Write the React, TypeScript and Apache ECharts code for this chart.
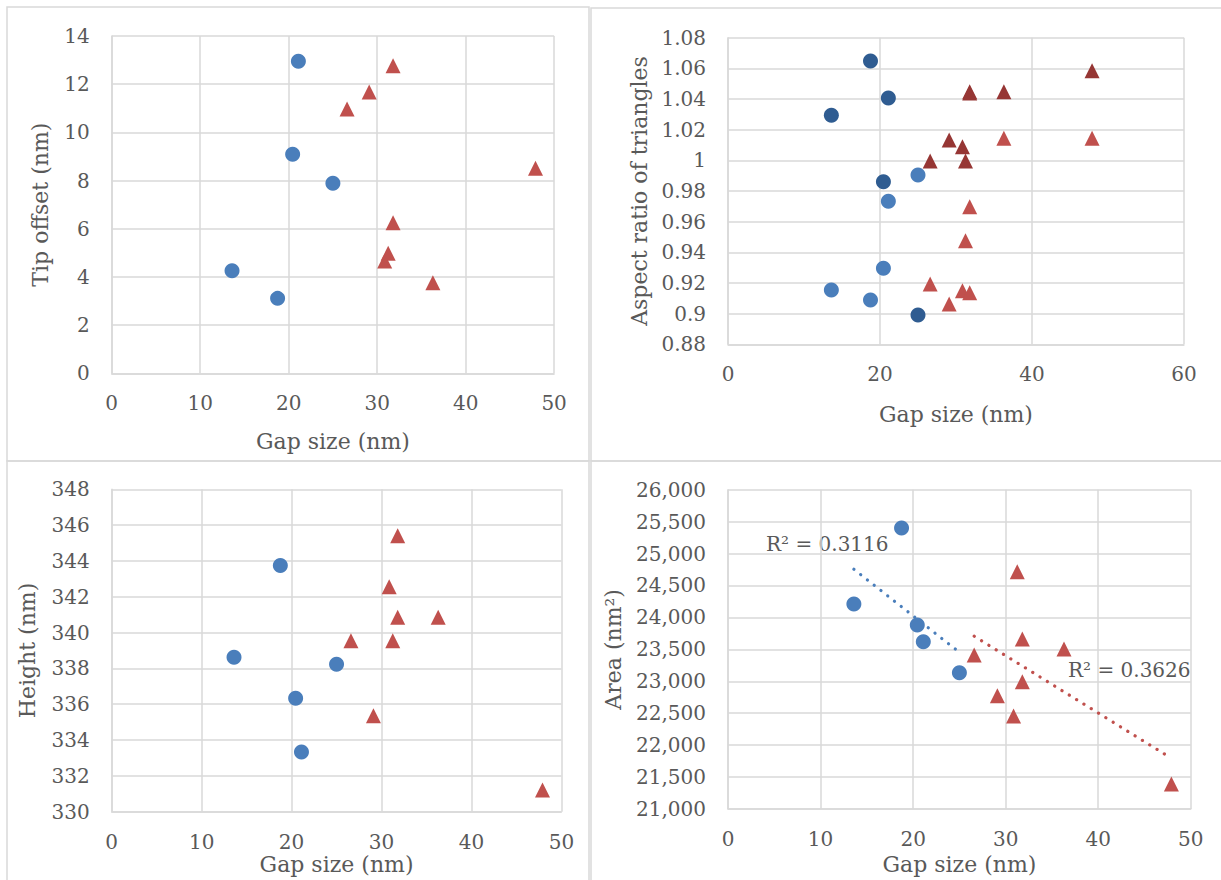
import React, { useEffect, useRef } from "react";
import * as echarts from "echarts";

// ---- data ----
const blueGap = [13.6, 18.75, 20.45, 21.1, 25.0];
const redGap = [26.6, 29.1, 30.85, 31.25, 31.8, 31.8, 36.3, 47.9];

const blueTip = [4.26, 3.11, 9.09, 12.95, 7.89];
const redTip = [10.97, 11.68, 4.66, 4.98, 12.77, 6.25, 3.76, 8.51];

const blueAspectDark = [1.0294, 1.0648, 0.9861, 1.0407, 0.8991];
const blueAspectLight = [0.9154, 0.9089, 0.9296, 0.9733, 0.9904];
const redAspectDark = [0.9995, 1.0133, 1.0089, 0.9995, 1.0448, 1.044, 1.0448, 1.0585];
const redAspectLight = [0.9193, 0.9063, 0.915, 0.9476, 0.9698, 0.9137, 1.0144, 1.0144];

const blueHeight = [338.62, 343.74, 336.33, 333.33, 338.23];
const redHeight = [339.55, 335.36, 342.56, 339.55, 345.41, 340.85, 340.85, 331.21];

const blueArea = [24210, 25400, 23881, 23620, 23135];
const redArea = [23412, 22774, 22456, 24716, 23662, 22993, 23505, 21391];

const xTitle = "Gap size (nm)";
const yTitles = ["Tip offset (nm)", "Aspect ratio of triangles", "Height (nm)", "Area (nm\u00B2)"];
const r2Labels = ["R\u00B2 = 0.3116", "R\u00B2 = 0.3626"];

const BLUE = "#4a7ebb";
const RED = "#c0504d";
const DARK_BLUE = "#2f5c91";
const DARK_RED = "#963634";
const GRID = "#d9d9d9";
const TEXT = "#595959";
const FONT = "DejaVu Serif";

const pairs = (xs: number[], ys: number[]) => xs.map((x, i) => [x, ys[i]]);

function fitLine(xs: number[], ys: number[]) {
  const n = xs.length;
  const mx = xs.reduce((a, b) => a + b, 0) / n;
  const my = ys.reduce((a, b) => a + b, 0) / n;
  let sxy = 0;
  let sxx = 0;
  xs.forEach((x, i) => {
    sxy += (x - mx) * (ys[i] - my);
    sxx += (x - mx) * (x - mx);
  });
  const slope = sxy / sxx;
  const x0 = Math.min(...xs);
  const x1 = Math.max(...xs);
  return [
    [x0, my + slope * (x0 - mx)],
    [x1, my + slope * (x1 - mx)],
  ];
}

export default function App() {
  const ref = useRef<HTMLDivElement>(null);
  useEffect(() => {
    if (!ref.current) return;
    const chart = echarts.init(ref.current, undefined, { renderer: "svg" });

    const grids = [
      { left: 111.7, top: 36, width: 442.4, height: 337.3 },
      { left: 728, top: 37.7, width: 456, height: 306.6 },
      { left: 111.7, top: 489.3, width: 449.7, height: 322.4 },
      { left: 728, top: 489.7, width: 462.8, height: 319.3 },
    ];

    const axisCommon = {
      axisLine: { show: true, lineStyle: { color: GRID, width: 1.5 } },
      axisTick: { show: false },
      splitLine: { show: true, lineStyle: { color: GRID, width: 1.5 } },
      axisLabel: { color: TEXT, fontFamily: FONT, fontSize: 20 },
      nameTextStyle: { color: TEXT, fontFamily: FONT, fontSize: 22 },
      nameLocation: "middle" as const,
    };

    const xRanges = [
      [0, 50, 10],
      [0, 60, 20],
      [0, 50, 10],
      [0, 50, 10],
    ];
    const xGaps = [57, 59, 42, 44];
    const xAxis = xRanges.map((r, i) => ({
      ...axisCommon,
      type: "value" as const,
      gridIndex: i,
      min: r[0],
      max: r[1],
      interval: r[2],
      name: xTitle,
      nameGap: xGaps[i],
      axisLabel: { ...axisCommon.axisLabel, margin: 20 },
    }));

    const yRanges = [
      [0, 14, 2],
      [0.88, 1.08, 0.02],
      [330, 348, 2],
      [21000, 26000, 500],
    ];
    const yGaps = [60, 78, 73, 104];
    const yFormatters = [
      (v: number) => String(v),
      (v: number) => String(+v.toFixed(2)),
      (v: number) => String(v),
      (v: number) => Math.round(v).toLocaleString("en-US"),
    ];
    const yAxis = yRanges.map((r, i) => ({
      ...axisCommon,
      type: "value" as const,
      gridIndex: i,
      min: r[0],
      max: r[1],
      interval: r[2],
      name: yTitles[i],
      nameRotate: 90,
      nameGap: yGaps[i],
      axisLabel: { ...axisCommon.axisLabel, margin: 22, formatter: yFormatters[i] },
    }));

    const sc = (idx: number, data: number[][], color: string, symbol: string) => ({
      type: "scatter" as const,
      xAxisIndex: idx,
      yAxisIndex: idx,
      data,
      symbol,
      symbolSize: 15,
      itemStyle: { color, opacity: 1 },
      silent: true,
    });

    const trend = (idx: number, data: number[][], color: string) => ({
      type: "line" as const,
      xAxisIndex: idx,
      yAxisIndex: idx,
      data,
      showSymbol: false,
      symbol: "none",
      lineStyle: { color, width: 3.2, type: [0.1, 8.5], cap: "round" },
      silent: true,
      z: 1,
    });

    const series = [
      sc(0, pairs(blueGap, blueTip), BLUE, "circle"),
      sc(0, pairs(redGap, redTip), RED, "triangle"),
      sc(1, pairs(blueGap, blueAspectLight), BLUE, "circle"),
      sc(1, pairs(blueGap, blueAspectDark), DARK_BLUE, "circle"),
      sc(1, pairs(redGap, redAspectLight), RED, "triangle"),
      sc(1, pairs(redGap, redAspectDark), DARK_RED, "triangle"),
      sc(2, pairs(blueGap, blueHeight), BLUE, "circle"),
      sc(2, pairs(redGap, redHeight), RED, "triangle"),
      trend(3, fitLine(blueGap, blueArea), BLUE),
      trend(3, fitLine(redGap, redArea), RED),
      sc(3, pairs(blueGap, blueArea), BLUE, "circle"),
      sc(3, pairs(redGap, redArea), RED, "triangle"),
    ];

    const border = (x: number, y: number, w: number, h: number) => ({
      type: "rect" as const,
      shape: { x, y, width: w, height: h },
      style: { fill: "none", stroke: GRID, lineWidth: 1.5 },
      silent: true,
      z: -1,
    });

    chart.setOption({
      animation: false,
      backgroundColor: "#ffffff",
      grid: grids,
      xAxis,
      yAxis,
      series,
      graphic: [
        border(7, 7, 582, 454),
        border(591, 8, 640, 453),
        border(7, 461, 582, 430),
        border(591, 461, 640, 430),
        {
          type: "text",
          left: 766,
          top: 534,
          style: { text: r2Labels[0], fill: TEXT, font: `20px "${FONT}"` },
          silent: true,
        },
        {
          type: "text",
          left: 1068,
          top: 660,
          style: { text: r2Labels[1], fill: TEXT, font: `20px "${FONT}"` },
          silent: true,
        },
      ],
    });
    return () => chart.dispose();
  }, []);
  return (
    <div
      ref={ref}
      style={{ position: "absolute", left: 0, top: 0, width: 1221, height: 880, background: "#fff" }}
    />
  );
}
